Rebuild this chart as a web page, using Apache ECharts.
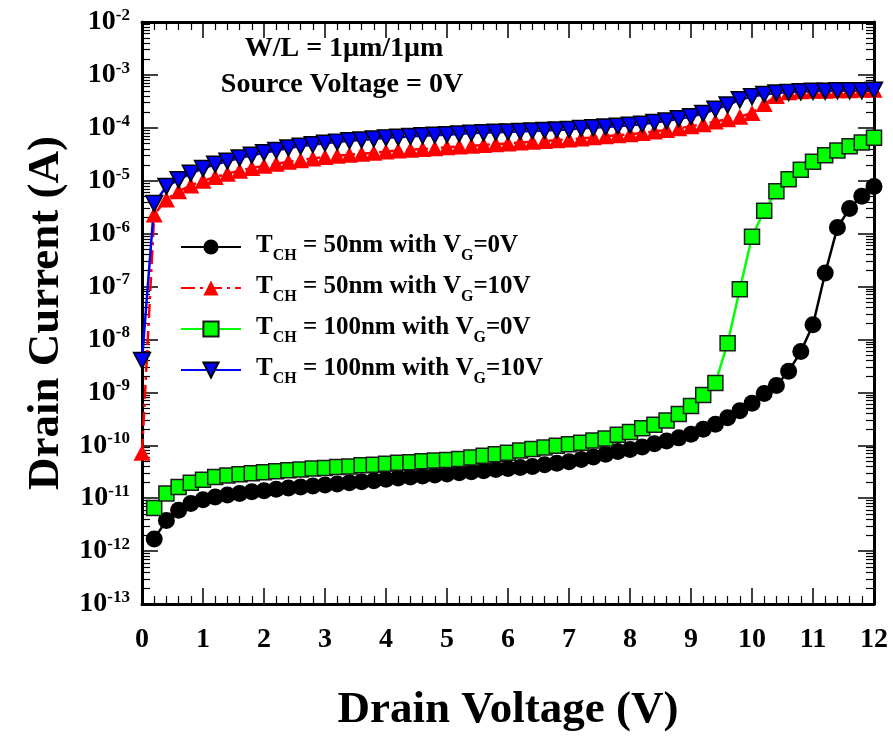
<!DOCTYPE html>
<html><head><meta charset="utf-8">
<script src="https://cdn.jsdelivr.net/npm/echarts@6/dist/echarts.min.js"></script>
<style>html,body{margin:0;padding:0;background:#fff}#c{width:893px;height:738px}</style>
</head><body><div id="c"></div>
<script>
const FONT = '"Liberation Serif","Times New Roman",serif';

// Drain voltage (V)
const drainVoltage = [0,0.2,0.4,0.6,0.8,1,1.2,1.4,1.6,1.8,2,2.2,2.4,2.6,2.8,3,3.2,3.4,3.6,3.8,4,4.2,4.4,4.6,4.8,5,5.2,5.4,5.6,5.8,6,6.2,6.4,6.6,6.8,7,7.2,7.4,7.6,7.8,8,8.2,8.4,8.6,8.8,9,9.2,9.4,9.6,9.8,10,10.2,10.4,10.6,10.8,11,11.2,11.4,11.6,11.8,12];
const drainVoltageNoZero = drainVoltage.slice(1);

// Drain current (A)
const tch50Vg0 = [1.7e-12,3.8e-12,5.9e-12,7.9e-12,9.3e-12,1.05e-11,1.15e-11,1.23e-11,1.32e-11,1.38e-11,
  1.48e-11,1.55e-11,1.62e-11,1.70e-11,1.78e-11,1.86e-11,1.95e-11,2.04e-11,2.14e-11,2.29e-11,
  2.40e-11,2.51e-11,2.63e-11,2.75e-11,2.88e-11,3.02e-11,3.16e-11,3.31e-11,3.47e-11,3.63e-11,
  3.80e-11,3.98e-11,4.27e-11,4.57e-11,4.90e-11,5.37e-11,6.03e-11,6.76e-11,7.59e-11,8.32e-11,
  9.3e-11,1.07e-10,1.20e-10,1.38e-10,1.62e-10,2.0e-10,2.5e-10,3.3e-10,4.5e-10,6.2e-10,
  9.5e-10,1.35e-9,2.5e-9,5.9e-9,1.9e-8,1.8e-7,1.3e-6,3.0e-6,5.1e-6,7.8e-6];
const tch50Vg10 = [7.2e-11,2.3e-6,4.4e-6,6.3e-6,8.1e-6,1.0e-5,1.17e-5,1.35e-5,1.55e-5,1.74e-5,1.91e-5,
  2.09e-5,2.29e-5,2.45e-5,2.63e-5,2.82e-5,2.95e-5,3.09e-5,3.24e-5,3.39e-5,3.55e-5,
  3.72e-5,3.85e-5,3.98e-5,4.12e-5,4.27e-5,4.42e-5,4.57e-5,4.73e-5,4.90e-5,5.07e-5,
  5.25e-5,5.43e-5,5.62e-5,5.82e-5,6.03e-5,6.31e-5,6.61e-5,6.92e-5,7.24e-5,7.59e-5,
  7.94e-5,8.51e-5,9.12e-5,9.77e-5,1.07e-4,1.17e-4,1.32e-4,1.45e-4,1.62e-4,1.91e-4,
  2.82e-4,3.98e-4,4.68e-4,4.90e-4,5.01e-4,5.01e-4,5.13e-4,5.13e-4,5.25e-4,5.25e-4];
const tch100Vg0 = [6.5e-12,1.23e-11,1.62e-11,1.95e-11,2.24e-11,2.51e-11,2.69e-11,2.82e-11,2.95e-11,3.09e-11,
  3.24e-11,3.39e-11,3.47e-11,3.63e-11,3.72e-11,3.89e-11,3.98e-11,4.17e-11,4.27e-11,4.47e-11,
  4.68e-11,4.79e-11,5.01e-11,5.13e-11,5.25e-11,5.50e-11,5.89e-11,6.31e-11,6.76e-11,7.24e-11,
  7.94e-11,8.51e-11,9.12e-11,9.77e-11,1.05e-10,1.12e-10,1.23e-10,1.35e-10,1.58e-10,1.78e-10,
  2.09e-10,2.45e-10,2.95e-10,3.89e-10,5.5e-10,8.9e-10,1.5e-9,8.5e-9,8.9e-8,8.7e-7,
  2.7e-6,6.3e-6,1.07e-5,1.62e-5,2.29e-5,3.02e-5,3.72e-5,4.47e-5,5.25e-5,6.46e-5];
const tch100Vg10 = [4.0e-9,3.7e-6,7.8e-6,1.04e-5,1.38e-5,1.70e-5,2.04e-5,2.34e-5,2.69e-5,3.02e-5,3.39e-5,
  3.72e-5,4.17e-5,4.47e-5,4.79e-5,5.13e-5,5.37e-5,5.69e-5,5.89e-5,6.17e-5,6.46e-5,
  6.61e-5,6.84e-5,7.08e-5,7.24e-5,7.41e-5,7.67e-5,7.94e-5,8.04e-5,8.22e-5,8.32e-5,
  8.51e-5,8.71e-5,8.91e-5,9.12e-5,9.33e-5,9.77e-5,1.00e-4,1.035e-4,1.07e-4,1.12e-4,
  1.17e-4,1.26e-4,1.35e-4,1.48e-4,1.62e-4,1.86e-4,2.24e-4,2.69e-4,3.39e-4,3.89e-4,
  4.27e-4,4.57e-4,4.68e-4,4.79e-4,4.90e-4,4.90e-4,5.01e-4,5.01e-4,5.01e-4,5.13e-4];

const seriesNames = ['TCH = 50nm with VG=0V','TCH = 50nm with VG=10V','TCH = 100nm with VG=0V','TCH = 100nm with VG=10V'];
const xTickLabels = [0,1,2,3,4,5,6,7,8,9,10,11,12];
const yDecades = [1e-13,1e-12,1e-11,1e-10,1e-9,1e-8,1e-7,1e-6,1e-5,1e-4,1e-3,1e-2];
const yMinorMultipliers = [2,3,4,5,6,7,8,9];
const annotations = ['W/L = 1\u03bcm/1\u03bcm','Source Voltage = 0V'];

const yMinor = [];
yDecades.slice(0, -1).forEach(d => yMinorMultipliers.forEach(k => yMinor.push(Number((k * d).toPrecision(3)))));

const pairs = (xs, ys) => ys.map((y, i) => [xs[i], y]);

const chart = echarts.init(document.getElementById('c'), null, {renderer: 'canvas'});

const baseY = {
  type: 'log', logBase: 10, min: 1e-13, max: 1e-2, gridIndex: 0,
  splitLine: {show: false}, minorTick: {show: false}, minorSplitLine: {show: false}
};
const labelRich = {
  b: {fontFamily: FONT, fontWeight: 'bold', fontSize: 28, lineHeight: 30, color: '#000'},
  p: {fontFamily: FONT, fontWeight: 'bold', fontSize: 17, lineHeight: 17, verticalAlign: 'top', color: '#000'}
};

const xBase = {
  type: 'value', min: 0, max: 12, interval: 1,
  splitLine: {show: false},
  axisLine: {show: true, onZero: false, lineStyle: {color: '#000', width: 3}},
  axisTick: {show: true, inside: true, length: 16, lineStyle: {color: '#000', width: 1.5}},
  minorTick: {show: true, splitNumber: 5, length: 8, lineStyle: {color: '#000', width: 1.2}}
};

chart.setOption({
  animation: false,
  backgroundColor: '#fff',
  grid: {left: 142, right: 19, top: 22, bottom: 126, containLabel: false},
  xAxis: [
    Object.assign({}, xBase, {
      position: 'bottom',
      axisLabel: {show: true, margin: 22, fontFamily: FONT, fontWeight: 'bold', fontSize: 28, color: '#000',
        customValues: xTickLabels, formatter: v => String(v)},
      name: 'Drain Voltage (V)', nameLocation: 'middle', nameGap: 84,
      nameTextStyle: {fontFamily: FONT, fontWeight: 'bold', fontSize: 45, color: '#000'}
    }),
    Object.assign({}, xBase, {position: 'top', axisLabel: {show: false}})
  ],
  yAxis: [
    Object.assign({}, baseY, {
      position: 'left',
      axisLine: {show: true, lineStyle: {color: '#000', width: 3}},
      axisTick: {show: true, inside: true, length: 16, customValues: yDecades, lineStyle: {color: '#000', width: 1.5}},
      axisLabel: {show: true, margin: 12, customValues: yDecades,
        formatter: v => '{b|10}{p|' + Math.round(Math.log10(v)) + '}', rich: labelRich},
      name: 'Drain Current (A)', nameLocation: 'middle', nameGap: 71,
      nameTextStyle: {fontFamily: FONT, fontWeight: 'bold', fontSize: 45, color: '#000'}
    }),
    Object.assign({}, baseY, {
      position: 'left',
      axisLine: {show: false},
      axisTick: {show: true, inside: true, length: 8, customValues: yMinor, lineStyle: {color: '#000', width: 1.2}},
      axisLabel: {show: false}
    }),
    Object.assign({}, baseY, {
      position: 'right',
      axisLine: {show: true, lineStyle: {color: '#000', width: 3}},
      axisTick: {show: true, inside: true, length: 16, customValues: yDecades, lineStyle: {color: '#000', width: 1.5}},
      axisLabel: {show: false}
    }),
    Object.assign({}, baseY, {
      position: 'right',
      axisLine: {show: false},
      axisTick: {show: true, inside: true, length: 8, customValues: yMinor, lineStyle: {color: '#000', width: 1.2}},
      axisLabel: {show: false}
    })
  ],
  legend: {
    data: seriesNames,
    orient: 'vertical', left: 175, top: 228,
    itemWidth: 60, itemHeight: 19, itemGap: 10,
    formatter: name => {
      const rest = name.slice(3).split('VG');
      return '{m|T}{s|CH}{m|' + rest[0] + 'V}{s|G}{m|' + rest[1] + '}';
    },
    textStyle: {
      padding: [0, 0, 0, 10],
      rich: {
        m: {fontFamily: FONT, fontWeight: 'bold', fontSize: 25, lineHeight: 28, verticalAlign: 'top', color: '#000'},
        s: {fontFamily: FONT, fontWeight: 'bold', fontSize: 16, lineHeight: 16, verticalAlign: 'top', padding: [15, 0, 0, 0], color: '#000'}
      }
    }
  },
  graphic: [
    {type: 'text', style: {text: annotations[0], x: 344, y: 49, align: 'center', verticalAlign: 'middle',
      font: 'bold 28px ' + FONT, fill: '#000'}},
    {type: 'text', style: {text: annotations[1], x: 342, y: 85, align: 'center', verticalAlign: 'middle',
      font: 'bold 28px ' + FONT, fill: '#000'}}
  ],
  series: [
    {name: seriesNames[0], type: 'line', xAxisIndex: 0, yAxisIndex: 0, data: pairs(drainVoltageNoZero, tch50Vg0),
      symbol: 'circle', symbolSize: 17, itemStyle: {color: '#000000'}, lineStyle: {color: '#000000', width: 2.5}},
    {name: seriesNames[1], type: 'line', xAxisIndex: 0, yAxisIndex: 0, data: pairs(drainVoltage, tch50Vg10),
      symbol: 'triangle', symbolSize: [17, 16], itemStyle: {color: '#ff0000'},
      lineStyle: {color: '#ff0000', width: 2.5, type: [14, 5, 3, 5]}},
    {name: seriesNames[2], type: 'line', xAxisIndex: 0, yAxisIndex: 0, data: pairs(drainVoltageNoZero, tch100Vg0),
      symbol: 'rect', symbolSize: 15, itemStyle: {color: '#00ff00', borderColor: '#1a1a1a', borderWidth: 1.5},
      lineStyle: {color: '#00ff00', width: 2.5}},
    {name: seriesNames[3], type: 'line', xAxisIndex: 0, yAxisIndex: 0, data: pairs(drainVoltage, tch100Vg10),
      symbol: 'triangle', symbolRotate: 180, symbolSize: [17, 16],
      itemStyle: {color: '#0000ff', borderColor: '#000000', borderWidth: 1.5}, lineStyle: {color: '#0000ff', width: 2.5}}
  ]
});
</script></body></html>
